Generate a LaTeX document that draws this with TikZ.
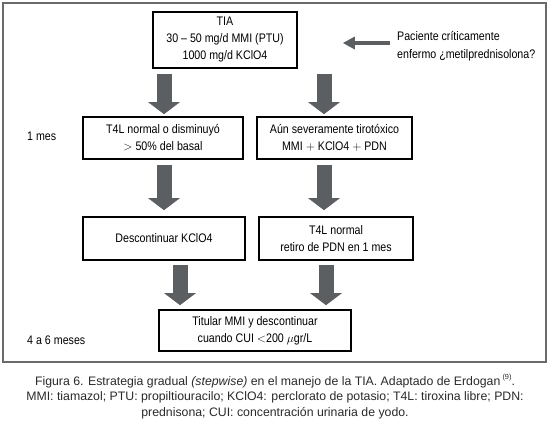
\documentclass[tikz,border=0pt]{standalone}
\usepackage{fontspec}
\setmainfont{Liberation Sans}
\newfontfamily\condf[FakeStretch=0.86]{Liberation Sans}
\usetikzlibrary{arrows.meta}
\definecolor{arrowgray}{HTML}{5C5F62}
\definecolor{framegray}{HTML}{6A6A6A}
\definecolor{capgray}{HTML}{2A2A2A}
\begin{document}
\begin{tikzpicture}[x=1pt,y=-1pt,
  box/.style={draw=black, line width=1.6pt, fill=white, inner sep=0pt, align=center,
    font=\condf\fontsize{12.4}{17}\selectfont},
  lbl/.style={inner sep=0pt, anchor=west, font=\condf\fontsize{12.4}{18}\selectfont},
  barrow/.style={draw=arrowgray, line width=15pt, -{Triangle[width=31pt,length=12pt]}},
  harrow/.style={draw=arrowgray, line width=4pt, -{Triangle[width=12pt,length=12pt]}},
  captext/.style={inner sep=0pt, text=capgray, font=\fontsize{12.3}{16}\selectfont}
]
\useasboundingbox (0,0) rectangle (550,424);
\fill[white] (0,0) rectangle (550,424);
\draw[framegray, line width=1.8pt] (3,3) rectangle (546,362);

% boxes
\node[box, minimum width=144pt, minimum height=56pt] (tia) at (225,40)
  {TIA\\30 – 50 mg/d MMI (PTU)\\1000 mg/d KClO4};
\node[box, minimum width=160pt, minimum height=42pt] (a1) at (163,138)
  {T4L normal o disminuyó\\$>$ 50\% del basal};
\node[box, minimum width=155pt, minimum height=42pt] (a2) at (334.5,138)
  {Aún severamente tirotóxico\\MMI $+$ KClO4 $+$ PDN};
\node[box, minimum width=162pt, minimum height=43pt] (b1) at (164,238.5)
  {Descontinuar KClO4};
\node[box, minimum width=154pt, minimum height=43pt] (b2) at (336,238.5)
  {T4L normal\\retiro de PDN en 1 mes};
\node[box, minimum width=192pt, minimum height=41pt] (c) at (255,330.5)
  {Titular MMI y descontinuar\\cuando CUI $<$200 $\mu$gr/L};

% side labels
\node[lbl, align=left] (pac) at (397,46) {Paciente críticamente\\enfermo ¿metilprednisolona?};
\node[lbl] (m1) at (27,136) {1 mes};
\node[lbl] (m2) at (27,340) {4 a 6 meses};

% x positions of the block arrows
\coordinate (xl) at (164,0);
\coordinate (xr) at (324,0);
\coordinate (xl3) at (180,0);
\coordinate (xr3) at (326,0);

% arrows
\draw[harrow] ([xshift=-7pt]pac.west |- 0,43) -- ([xshift=45pt]tia.east |- 0,43);
\draw[barrow] ([yshift=-5pt]tia.south -| xl) -- ([yshift=2pt]a1.north -| xl);
\draw[barrow] ([yshift=-5pt]tia.south -| xr) -- ([yshift=2pt]a2.north -| xr);
\draw[barrow] ([yshift=-5pt]a1.south -| xl) -- ([yshift=6pt]b1.north -| xl);
\draw[barrow] ([yshift=-5pt]a2.south -| xr) -- ([yshift=6pt]b2.north -| xr);
\draw[barrow] ([yshift=-4pt]b1.south -| xl3) -- ([yshift=4pt]c.north -| xl3);
\draw[barrow] ([yshift=-4pt]b2.south -| xr3) -- ([yshift=4pt]c.north -| xr3);

% caption
\node[captext] (cap1) at (275,381) {Figura 6. Estrategia gradual \textit{(stepwise)} en el manejo de la TIA. Adaptado de Erdogan\,\raisebox{0.9ex}{\scalebox{0.6}{(9)}}.};
\node[captext] (cap2) at (275,397) {MMI: tiamazol; PTU: propiltiouracilo; KClO4: perclorato de potasio; T4L: tiroxina libre; PDN:};
\node[captext] (cap3) at (275,413) {prednisona; CUI: concentración urinaria de yodo.};
\end{tikzpicture}
\end{document}
